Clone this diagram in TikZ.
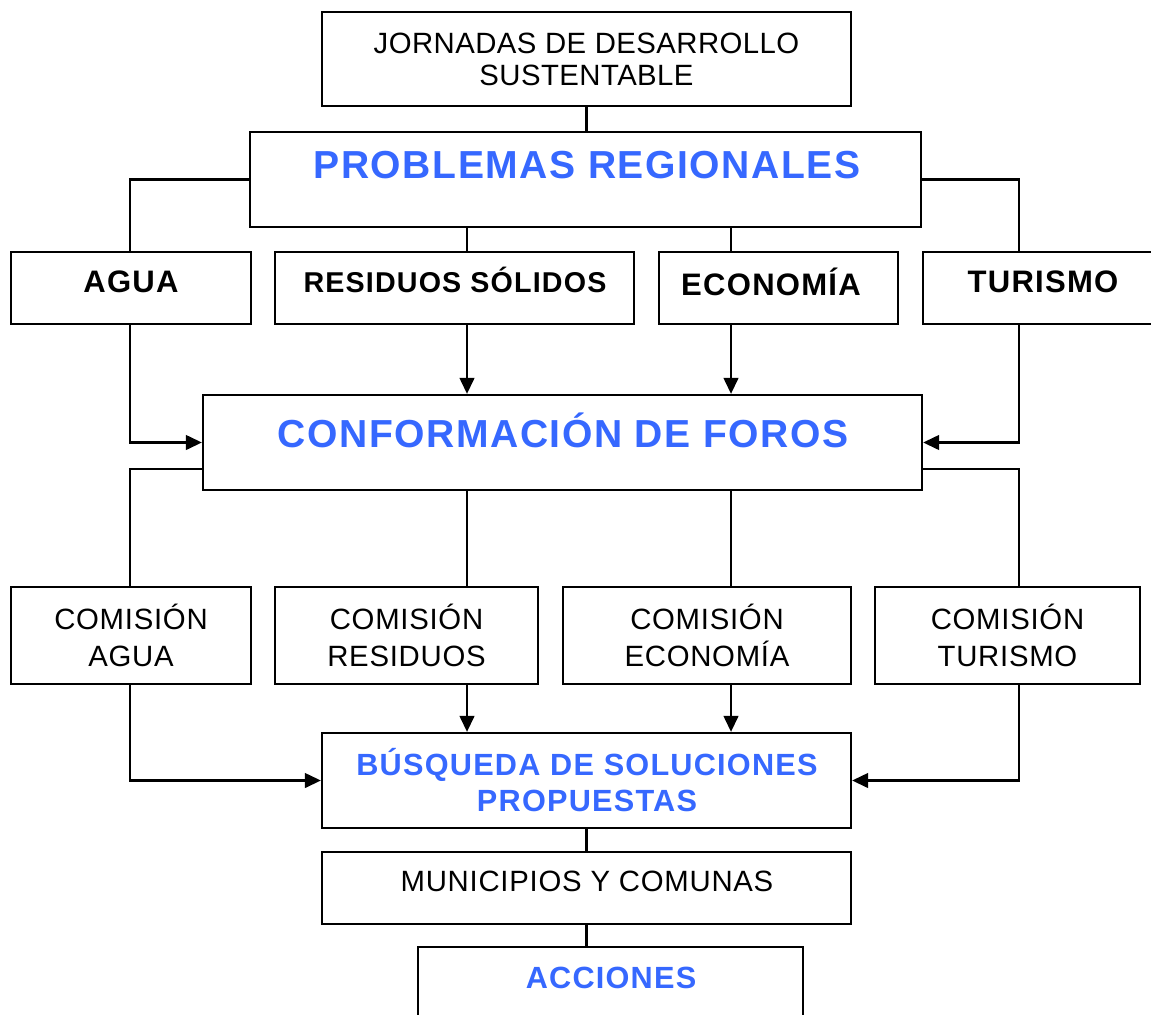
\documentclass[tikz,border=0pt]{standalone}
\usepackage{fontspec}
\setmainfont{Liberation Sans}
\newfontfamily\medbold{Liberation Sans Bold}[LetterSpace=4]
\newfontfamily\regfont{Liberation Sans}[LetterSpace=2.5]
\newfontfamily\jorfont{Liberation Sans}[LetterSpace=1.5]
\usetikzlibrary{arrows.meta,calc}
\definecolor{titleblue}{RGB}{54,104,255}
\tikzset{
  bx/.style n args={2}{draw=black, line width=1.7pt, fill=white, inner sep=0pt,
    minimum width={#1*0.75pt}, minimum height={#2*0.75pt}},
  conn/.style={line width=1.7pt, draw=black},
  arr/.style={conn, -{Triangle[length=12pt,width=11pt]}},
  bigtxt/.style={text=titleblue, font=\medbold\fontsize{29.3pt}{34pt}\selectfont, inner sep=0pt},
  boldtxt/.style={text=black, font=\medbold\fontsize{23.3pt}{27pt}\selectfont, inner sep=0pt, align=center},
  bluetxt/.style={text=titleblue, font=\medbold\fontsize{23pt}{26.5pt}\selectfont, inner sep=0pt, align=center},
  regtxt/.style={text=black, font=\regfont\fontsize{22pt}{27.75pt}\selectfont, inner sep=0pt, align=center},
  jortxt/.style={text=black, font=\jorfont\fontsize{22pt}{24pt}\selectfont, inner sep=0pt, align=center},
  restxt/.style={text=black, font=\medbold\fontsize{21.5pt}{25pt}\selectfont, inner sep=0pt, align=center},
}
\begin{document}
\begin{tikzpicture}[x=0.75pt, y=-0.75pt]
\useasboundingbox (0,0) rectangle (1151,1014);
\clip (0,0) rectangle (1151,1014);
\fill[white] (0,0) rectangle (1151,1014);

% column x positions of connectors
\coordinate (cxl) at (130,0);
\coordinate (cx1) at (467,0);
\coordinate (cx2) at (731,0);
\coordinate (cxr) at (1019,0);

% boxes
\node[bx={529}{94}] (jor) at (586.5,59) {};
\node[bx={671}{95}] (prob) at (585.5,179.5) {};
\node[bx={240}{72}] (agua) at (131,288) {};
\node[bx={359}{72}] (res) at (454.5,288) {};
\node[bx={239}{72}] (eco) at (778.5,288) {};
\node[bx={242}{72}] (tur) at (1044,288) {};
\node[bx={719}{95}] (conf) at (562.5,442.5) {};
\node[bx={240}{97}] (cagua) at (131,635.5) {};
\node[bx={263}{97}] (cres) at (406.5,635.5) {};
\node[bx={288}{97}] (ceco) at (707,635.5) {};
\node[bx={265}{97}] (ctur) at (1007.5,635.5) {};
\node[bx={529}{95}] (bus) at (586.5,780.5) {};
\node[bx={529}{72}] (mun) at (586.5,888) {};
\node[bx={385}{93}] (acc) at (610.5,993.5) {};

% texts
\node[jortxt] (jorT) at (jor.center) {JORNADAS DE DESARROLLO\\SUSTENTABLE};
\node[bigtxt] (probT) at (587,165) {PROBLEMAS REGIONALES};
\node[boldtxt] (aguaT) at (131,282) {AGUA};
\node[restxt] (resT) at (455,280) {RESIDUOS SÓLIDOS};
\node[boldtxt] (ecoT) at (771,282) {ECONOMÍA};
\node[boldtxt] (turT) at (1043,282) {TURISMO};
\node[bigtxt] (confT) at (563,430) {CONFORMACIÓN DE FOROS};
\node[regtxt] (caguaT) at (cagua.center) {COMISIÓN\\AGUA};
\node[regtxt] (cresT) at (cres.center) {COMISIÓN\\RESIDUOS};
\node[regtxt] (cecoT) at (ceco.center) {COMISIÓN\\ECONOMÍA};
\node[regtxt] (cturT) at (ctur.center) {COMISIÓN\\TURISMO};
\node[bluetxt] (busT) at (587,780) {BÚSQUEDA DE SOLUCIONES\\PROPUESTAS};
\node[regtxt] (munT) at (587,881) {MUNICIPIOS Y COMUNAS};
\node[bluetxt] (accT) at (611,978) {ACCIONES};

% connectors
\draw[conn] (jor.south) -- (prob.north -| jor.south);
\draw[conn] (prob.west) -| (agua.north -| cxl);
\draw[conn] (prob.east) -| (tur.north -| cxr);
\draw[conn] (prob.south -| cx1) -- (res.north -| cx1);
\draw[conn] (prob.south -| cx2) -- (eco.north -| cx2);

\draw[arr] (agua.south -| cxl) |- (conf.west);
\draw[arr] (tur.south -| cxr) |- (conf.east);
\draw[arr] (res.south -| cx1) -- (conf.north -| cx1);
\draw[arr] (eco.south -| cx2) -- (conf.north -| cx2);

\draw[conn] ($(conf.south west)+(0,-22)$) -| (cagua.north -| cxl);
\draw[conn] ($(conf.south east)+(0,-22)$) -| (ctur.north -| cxr);
\draw[conn] (conf.south -| cx1) -- (cres.north -| cx1);
\draw[conn] (conf.south -| cx2) -- (ceco.north -| cx2);

\draw[arr] (cagua.south -| cxl) |- (bus.west);
\draw[arr] (ctur.south -| cxr) |- (bus.east);
\draw[arr] (cres.south -| cx1) -- (bus.north -| cx1);
\draw[arr] (ceco.south -| cx2) -- (bus.north -| cx2);

\draw[conn] (bus.south) -- (mun.north);
\draw[conn] (mun.south) -- (acc.north -| mun.south);
\end{tikzpicture}
\end{document}
